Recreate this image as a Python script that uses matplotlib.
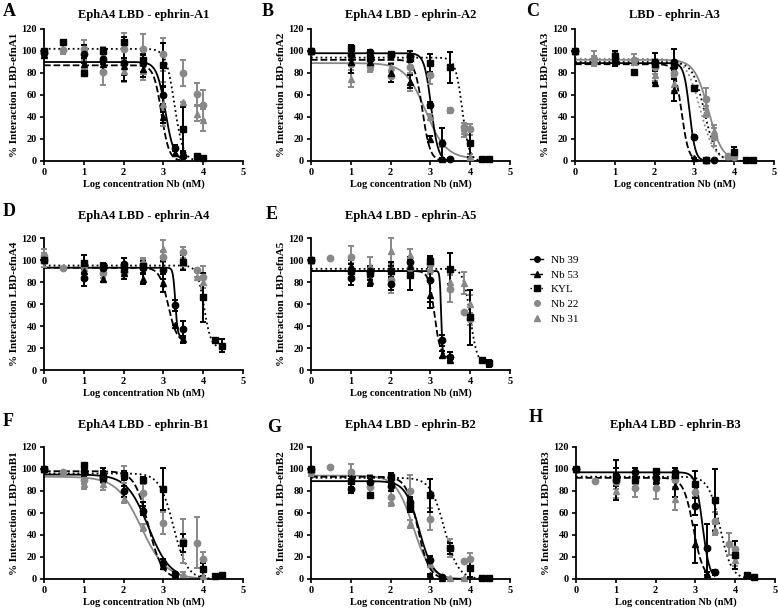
import numpy as np
import matplotlib
matplotlib.use("Agg")
import matplotlib.pyplot as plt
from matplotlib.lines import Line2D

plt.rcParams["font.family"] = ["Liberation Serif", "DejaVu Serif"]
plt.rcParams["font.weight"] = "bold"

# (log conc, mean %, error) per series
panel_A = {
    "Nb 39": [(0, 98, 3), (1, 97, 8), (1.48, 93, 5), (2, 89, 16), (2.48, 89, 8), (3, 60, 8), (3.3, 12, 3), (3.48, 5, 2)],
    "Nb 53": [(0, 96, 2), (1, 88, 6), (1.48, 88, 6), (2, 86, 8), (2.48, 84, 8), (3, 40, 5), (3.3, 7, 2), (3.48, 6, 2)],
    "KYL": [(0, 100, 0), (0.48, 108, 0), (1, 80, 2), (1.48, 100, 3), (2, 108, 5), (2.48, 92, 4), (3, 87, 20), (3.48, 29, 20), (3.85, 5, 0), (4, 3, 0)],
    "Nb 22": [(0, 100, 0), (0.48, 101, 4), (1, 102, 8), (1.48, 81, 12), (2, 102, 14), (2.48, 102, 13), (3, 97, 15), (3.48, 80, 12), (3.85, 61, 10), (4, 51, 14)],
    "Nb 31": [(0, 97, 3), (1, 86, 6), (1.48, 96, 8), (2, 82, 10), (2.48, 82, 8), (3, 52, 20), (3.48, 54, 0), (3.85, 43, 7), (4, 37, 10)],
}
panel_B = {
    "Nb 39": [(0, 100, 0), (1, 96, 4), (1.48, 99, 2), (2, 96, 3), (2.48, 95, 5), (3, 51, 3), (3.3, 16, 14), (3.48, 2, 1)],
    "Nb 53": [(0, 100, 0), (1, 90, 10), (1.48, 90, 5), (2, 80, 8), (2.48, 72, 6), (3, 20, 3), (3.3, 2, 1)],
    "KYL": [(0, 100, 0), (1, 103, 2), (1.48, 94, 3), (2, 97, 2), (2.48, 94, 3), (3, 89, 8), (3.48, 85, 14), (4, 16, 12), (4.3, 2, 0), (4.48, 2, 0)],
    "Nb 22": [(0, 100, 0), (1, 88, 5), (1.48, 86, 4), (2, 77, 5), (2.48, 85, 5), (3, 78, 8), (3.48, 46, 2), (3.85, 31, 4), (4, 29, 5)],
    "Nb 31": [(0, 100, 0), (1, 75, 8), (1.48, 85, 4), (2, 85, 4), (2.48, 72, 8), (3, 40, 3), (3.3, 16, 3), (3.85, 27, 5), (4, 4, 2)],
}
panel_C = {
    "Nb 39": [(0, 100, 0), (1, 90, 4), (2, 90, 8), (2.48, 90, 12), (3, 22, 2), (3.3, 1, 0), (3.48, 1, 0)],
    "Nb 53": [(0, 100, 0), (1, 92, 3), (2, 71, 0), (2.48, 65, 10), (3, 3, 0), (3.3, 1, 0)],
    "KYL": [(0, 100, 0), (1, 95, 5), (1.48, 81, 0), (2, 88, 4), (2.48, 87, 4), (3, 66, 0), (3.3, 1, 0), (4, 8, 5), (4.3, 1, 0), (4.48, 1, 0)],
    "Nb 22": [(0, 100, 0), (0.48, 93, 7), (1, 93, 5), (1.48, 92, 5), (2, 85, 6), (2.48, 80, 5), (3.3, 56, 10), (3.48, 22, 8), (3.85, 5, 0), (4, 4, 0)],
    "Nb 31": [(0, 100, 0), (0.48, 91, 4), (1, 91, 4), (1.48, 90, 3), (2, 78, 5), (2.48, 70, 6), (3.3, 45, 5), (3.48, 27, 6), (3.85, 5, 0)],
}
panel_D = {
    "Nb 39": [(0, 100, 0), (1, 84, 8), (1.48, 93, 3), (2, 96, 6), (2.48, 93, 6), (3, 91, 8), (3.3, 59, 5), (3.48, 37, 8)],
    "Nb 53": [(0, 100, 0), (1, 90, 8), (1.48, 83, 3), (2, 88, 5), (2.48, 83, 5), (3, 79, 8), (3.3, 41, 0), (3.48, 28, 3)],
    "KYL": [(0, 100, 0), (1, 97, 8), (1.48, 95, 2), (2, 92, 5), (2.48, 95, 4), (3.48, 98, 7), (4, 66, 22), (4.3, 27, 0), (4.48, 22, 6)],
    "Nb 22": [(0, 104, 6), (0.48, 93, 0), (1, 95, 10), (1.48, 88, 4), (2, 89, 6), (2.48, 96, 5), (3, 103, 5), (3.48, 107, 5), (3.85, 91, 0), (4, 85, 10)],
    "Nb 31": [(0, 100, 6), (1, 93, 5), (1.48, 92, 4), (2, 92, 4), (2.48, 98, 4), (3, 110, 8), (3.48, 97, 5), (3.85, 85, 0), (4, 80, 5)],
}
panel_E = {
    "Nb 39": [(0, 100, 0), (1, 84, 7), (1.48, 90, 5), (2, 78, 5), (2.48, 98, 5), (3, 82, 20), (3.3, 27, 5), (3.48, 12, 4)],
    "Nb 53": [(0, 100, 0), (1, 95, 5), (1.48, 81, 5), (2, 90, 5), (2.48, 95, 5), (3, 68, 12), (3.3, 14, 3), (3.48, 9, 2)],
    "KYL": [(0, 100, 0), (1, 90, 6), (1.48, 88, 6), (2, 90, 8), (2.48, 86, 13), (3, 99, 5), (3.48, 92, 14), (4, 48, 25), (4.3, 9, 0), (4.48, 6, 3)],
    "Nb 22": [(0, 100, 0), (0.48, 102, 0), (1, 103, 10), (1.48, 88, 5), (2, 82, 12), (2.48, 93, 6), (3, 96, 5), (3.48, 74, 12), (3.85, 53, 0), (4, 46, 5)],
    "Nb 31": [(0, 100, 0), (1, 91, 6), (1.48, 95, 8), (2, 108, 12), (2.48, 105, 5), (3, 92, 5), (3.48, 80, 8), (3.85, 79, 10), (4, 60, 8)],
}
panel_F = {
    "Nb 39": [(0, 100, 0), (1, 98, 3), (1.48, 93, 5), (2, 80, 5), (2.48, 62, 4), (3, 15, 3), (3.3, 5, 1)],
    "Nb 53": [(0, 100, 0), (1, 97, 3), (1.48, 98, 3), (2, 94, 4), (2.48, 65, 5), (3, 12, 3), (3.3, 5, 1)],
    "KYL": [(0, 100, 0), (1, 104, 0), (1.48, 92, 4), (2, 95, 3), (2.48, 90, 3), (3, 82, 19), (3.48, 33, 8), (4, 9, 6), (4.3, 3, 0), (4.48, 4, 0)],
    "Nb 22": [(0, 100, 0), (0.48, 97, 0), (1, 90, 4), (1.48, 92, 5), (2, 95, 8), (2.48, 78, 8), (3, 51, 10), (3.48, 35, 20), (3.85, 33, 23), (4, 18, 7)],
    "Nb 31": [(0, 100, 0), (1, 86, 4), (1.48, 86, 5), (2, 73, 4), (2.48, 47, 3), (3, 13, 3), (3.48, 5, 1), (4, 3, 0)],
}
panel_G = {
    "Nb 39": [(0, 100, 0), (1, 82, 4), (1.48, 88, 4), (2, 85, 5), (2.48, 70, 5), (3, 17, 4), (3.3, 2, 1)],
    "Nb 53": [(0, 100, 0), (1, 92, 4), (1.48, 90, 4), (2, 90, 4), (2.48, 68, 5), (3, 4, 1), (3.3, 1, 0)],
    "KYL": [(0, 100, 0), (1, 89, 5), (1.48, 76, 0), (2, 93, 3), (2.48, 66, 5), (3, 76, 15), (3.48, 28, 5), (4, 10, 8), (4.3, 0.5, 0), (4.48, 0.5, 0)],
    "Nb 22": [(0, 97, 3), (0.48, 102, 0), (1, 97, 8), (1.48, 84, 8), (2, 75, 6), (2.48, 80, 15), (3, 55, 10), (3.48, 28, 8), (3.85, 16, 0), (4, 18, 6)],
    "Nb 31": [(0, 100, 0), (1, 91, 4), (1.48, 90, 5), (2, 70, 4), (2.48, 50, 4), (3, 14, 3), (3.48, 1, 0), (3.85, 0.5, 0)],
}
panel_H = {
    "Nb 39": [(0, 100, 0), (1, 90, 18), (1.48, 97, 4), (2, 92, 4), (2.48, 97, 4), (3, 66, 8), (3.3, 28, 22), (3.48, 6, 2)],
    "Nb 53": [(0, 100, 0), (1, 92, 4), (1.48, 92, 4), (2, 90, 4), (2.48, 85, 10), (3, 32, 17), (3.3, 5, 1)],
    "KYL": [(0, 100, 0), (1, 93, 8), (1.48, 90, 6), (2, 98, 2), (2.48, 95, 6), (3, 86, 12), (3.48, 72, 28), (4, 22, 13), (4.3, 4, 0), (4.48, 2, 0)],
    "Nb 22": [(0, 100, 0), (0.48, 89, 0), (1, 88, 6), (1.48, 83, 8), (2, 83, 10), (2.48, 90, 6), (3, 79, 5), (3.48, 53, 8), (3.85, 32, 10), (4, 27, 8)],
    "Nb 31": [(0, 100, 0), (1, 80, 6), (1.48, 89, 6), (2, 92, 4), (2.48, 73, 10), (3, 80, 5), (3.48, 45, 5), (4, 17, 5)],
}

# fitted curves: (top, bottom, logIC50, hill slope)
fit_A = {"Nb 39": (90, 0, 3.05, 4), "Nb 53": (87, 0, 2.95, 4.5), "KYL": (102, 0, 3.28, 4)}
fit_B = {"Nb 39": (98, 0, 3.02, 5), "Nb 53": (92, 0, 2.8, 4.5), "KYL": (94, 0, 3.8, 5), "Nb 31": (89, 2, 2.88, 1.7)}
fit_C = {"Nb 39": (89, 0, 2.88, 6), "Nb 53": (88, 0, 2.68, 5), "KYL": (90, 0, 3.25, 3),
         "Nb 22": (93, 0, 3.15, 2.5), "Nb 31": (92, 0, 3.35, 2.5)}
fit_D = {"Nb 39": (93, 30, 3.3, 15), "Nb 53": (93, 25, 3.12, 4), "KYL": (95, 20, 4.02, 5)}
fit_E = {"Nb 39": (90, 12, 3.27, 25), "Nb 53": (90, 12, 3.1, 6), "KYL": (92, 5, 4.0, 5)}
fit_F = {"Nb 39": (95, 0, 2.62, 1.6), "Nb 53": (98, 0, 2.62, 2.5), "KYL": (96, 0, 3.25, 2.5), "Nb 31": (93, 0, 2.45, 1.4)}
fit_G = {"Nb 39": (89, 0, 2.72, 2.5), "Nb 53": (93, 0, 2.68, 3), "KYL": (92, 0, 3.35, 2.5), "Nb 31": (94, 0, 2.57, 2)}
fit_H = {"Nb 39": (97, 0, 3.18, 5), "Nb 53": (92, 0, 2.95, 3.5), "KYL": (93, 0, 3.62, 3)}

letters = ["A", "B", "C", "D", "E", "F", "G", "H"]
titles = ["EphA4 LBD - ephrin-A1", "EphA4 LBD - ephrin-A2", "LBD - ephrin-A3",
          "EphA4 LBD - ephrin-A4", "EphA4 LBD - ephrin-A5",
          "EphA4 LBD - ephrin-B1", "EphA4 LBD - ephrin-B2", "EphA4 LBD - ephrin-B3"]
ylabels = ["efnA1", "efnA2", "efnA3", "efnA4", "efnA5", "efnB1", "efnB2", "efnB3"]
panels = [panel_A, panel_B, panel_C, panel_D, panel_E, panel_F, panel_G, panel_H]
fits = [fit_A, fit_B, fit_C, fit_D, fit_E, fit_F, fit_G, fit_H]

GRAY = "#888888"
styles = {
    "Nb 39": dict(marker="o", color="black", ls="-"),
    "Nb 53": dict(marker="^", color="black", ls="--"),
    "KYL": dict(marker="s", color="black", ls=":"),
    "Nb 22": dict(marker="o", color=GRAY, ls=":"),
    "Nb 31": dict(marker="^", color=GRAY, ls="-"),
}

W, H = 778, 611
fig = plt.figure(figsize=(W / 100, H / 100), dpi=100)

# axes boxes in pixels: (x of x=0, y of y=0)
boxes = [(44, 161), (311, 161), (575, 161),
         (44, 370), (311, 370),
         (44, 579), (311, 579), (576, 579)]
title_y = [15, 15, 15, 216, 216, 425, 425, 425]
letter_pos = [(3, 12), (262, 12), (526, 12), (3, 212), (266, 214), (3, 422), (267, 427), (529, 418)]
aw, ah = 199, 132


def curve(x, top, bottom, logic50, hill):
    return bottom + (top - bottom) / (1 + 10 ** ((x - logic50) * hill))


for i, (data, fit) in enumerate(zip(panels, fits)):
    x0, y0 = boxes[i]
    ax = fig.add_axes([x0 / W, 1 - y0 / H, aw / W, ah / H])
    for name in ["Nb 31", "Nb 22", "KYL", "Nb 53", "Nb 39"]:
        st = styles[name]
        pts = np.array(data[name], dtype=float)
        ax.errorbar(pts[:, 0], pts[:, 1], yerr=pts[:, 2], fmt=st["marker"], color=st["color"],
                    ms=4.6, elinewidth=1.4, capsize=2.2, capthick=1.4, clip_on=False, zorder=3)
        if name in fit:
            xs = np.linspace(0, pts[:, 0].max(), 300)
            ax.plot(xs, curve(xs, *fit[name]), color=st["color"], ls=st["ls"], lw=1.3, zorder=2)
    ax.set_xlim(0, 5)
    ax.set_ylim(0, 120)
    ax.set_xticks(range(6))
    ax.set_yticks(range(0, 121, 20))
    for s in ["top", "right"]:
        ax.spines[s].set_visible(False)
    for s in ["left", "bottom"]:
        ax.spines[s].set_linewidth(1.3)
    ax.tick_params(width=1.2, length=3, labelsize=7.5, pad=2)
    for lab in ax.get_xticklabels() + ax.get_yticklabels():
        lab.set_fontweight("bold")
    ax.set_xlabel("Log concentration Nb (nM)", fontsize=7.5, fontweight="bold", labelpad=2)
    ax.set_ylabel("% Interaction LBD-" + ylabels[i], fontsize=8, fontweight="bold", labelpad=2)
    fig.text((x0 + aw / 2) / W, 1 - title_y[i] / H, titles[i], ha="center", va="center",
             fontsize=9, fontweight="bold")
    lx, ly = letter_pos[i]
    fig.text(lx / W, 1 - ly / H, letters[i], ha="left", va="center", fontsize=13, fontweight="bold")

handles = []
for name in ["Nb 39", "Nb 53", "KYL", "Nb 22", "Nb 31"]:
    st = styles[name]
    ls = st["ls"] if st["color"] == "black" else "None"
    handles.append(Line2D([], [], marker=st["marker"], color=st["color"], ls=ls, lw=1, ms=4))
fig.legend(handles, ["Nb 39", "Nb 53", "KYL", "Nb 22", "Nb 31"], loc="upper left",
           bbox_to_anchor=(520 / W, 1 - 245 / H), frameon=False, handlelength=1.2,
           handletextpad=0.7, labelspacing=0.45,
           prop={"family": "Liberation Serif", "weight": "normal", "size": 8})

fig.savefig("out.png", dpi=100)
